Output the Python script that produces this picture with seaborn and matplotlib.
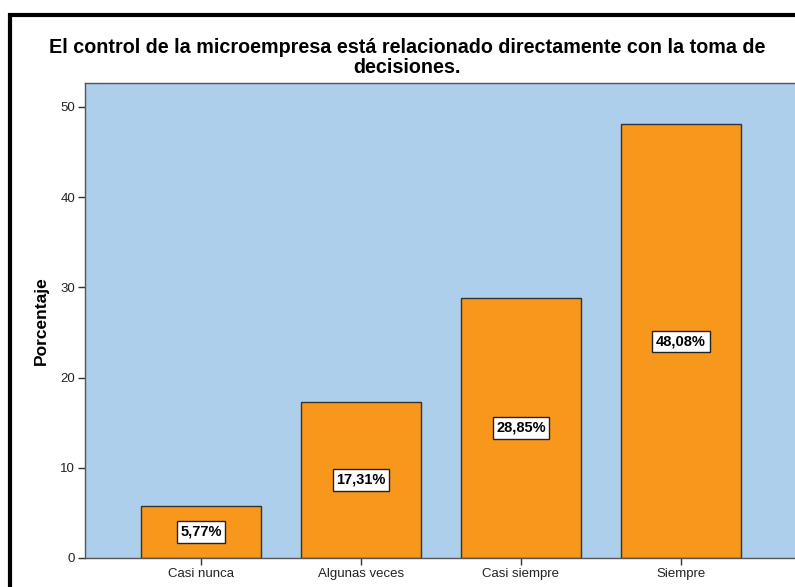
import numpy as np
import pandas as pd
import matplotlib
matplotlib.use("Agg")
import matplotlib.pyplot as plt
import seaborn as sns
from matplotlib.patches import Rectangle

categorias = ["Casi nunca", "Algunas veces", "Casi siempre", "Siempre"]
porcentajes = [5.77, 17.31, 28.85, 48.08]
etiquetas = ["5,77%", "17,31%", "28,85%", "48,08%"]

sns.set_style("white")
plt.rcParams['font.family'] = ['Liberation Sans', 'DejaVu Sans']

df = pd.DataFrame({"categoria": categorias, "porcentaje": porcentajes})

fig = plt.figure(figsize=(7.95, 5.87), dpi=100)
ax = fig.add_axes([85 / 795, 29 / 587, 712 / 795, 475 / 587])
ax.set_facecolor("#AECFEB")

sns.barplot(data=df, x="categoria", y="porcentaje", color="#F7981D",
            saturation=1, width=0.744, edgecolor="#333333", linewidth=1, ax=ax)

# etiquetas en caja blanca a media altura
for i, (v, t) in enumerate(zip(porcentajes, etiquetas)):
    ax.text(i, v / 2, t, ha="center", va="center", fontsize=10.5,
            fontweight="bold", color="black",
            bbox=dict(boxstyle="square,pad=0.25", fc="white", ec="#222222", lw=1))

ax.set_xlim(-0.725, 3.725)
ax.set_ylim(0, 52.66)
ax.set_yticks([0, 10, 20, 30, 40, 50])
ax.tick_params(axis="both", direction="out", length=5, width=1, color="#333333",
               labelsize=9.5, labelcolor="#222222", left=True, bottom=True, pad=2)
for s in ax.spines.values():
    s.set_color("#555555")
    s.set_linewidth(1)

ax.set_xlabel("")
ax.set_ylabel("Porcentaje", fontsize=12.5, fontweight="bold", labelpad=8,
              color="black")

fig.text(407 / 795, 1 - 57.5 / 587,
         "El control de la microempresa está relacionado directamente con la toma de\ndecisiones.",
         ha="center", va="center", fontsize=14.2, fontweight="bold",
         linespacing=1.08, color="black")

# marco negro del gráfico
fig.patches.append(Rectangle((10 / 795, -0.1), 1.2, 1 - 15 / 587 + 0.1,
                             transform=fig.transFigure, fill=False,
                             ec="black", lw=3))

fig.savefig("out.png", dpi=100)
